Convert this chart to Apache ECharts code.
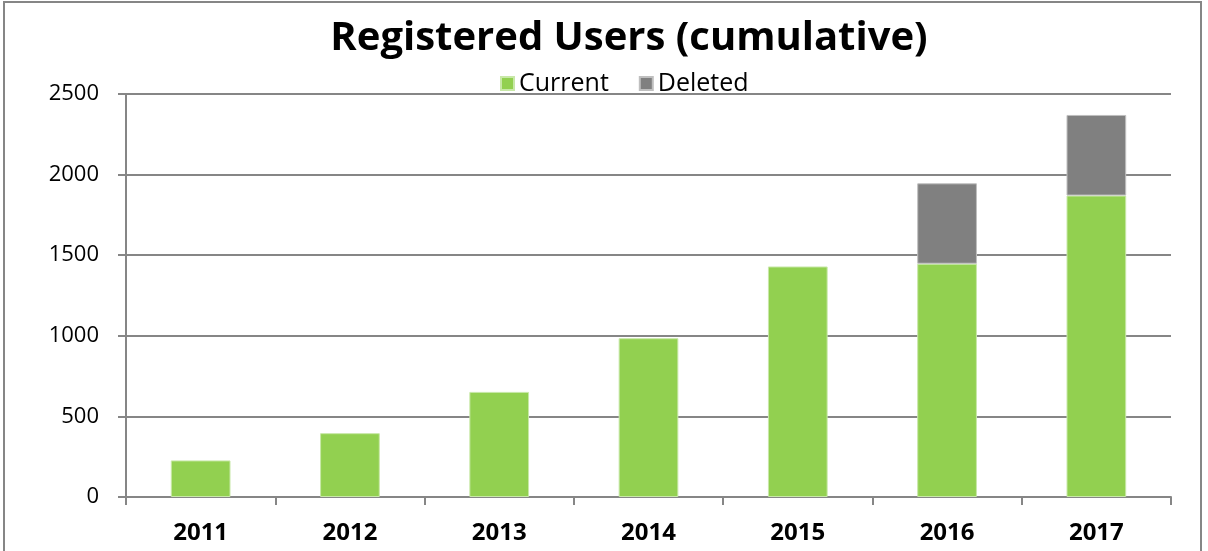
<!DOCTYPE html>
<html>
<head>
<meta charset="utf-8">
<script src="https://cdn.jsdelivr.net/npm/echarts@6/dist/echarts.min.js"></script>
<style>
  html, body { margin: 0; padding: 0; background: #fff; }
  #main { width: 1208px; height: 551px; }
</style>
</head>
<body>
<div id="main"></div>
<script>
// data
var years = ['2011', '2012', '2013', '2014', '2015', '2016', '2017'];
var current = [227, 396, 652, 985, 1430, 1447, 1870];
var deleted = [0, 0, 0, 0, 0, 499, 500];
var yTicks = [0, 500, 1000, 1500, 2000, 2500];

var myChart = echarts.init(document.getElementById('main'));
var font = '"Open Sans", "Noto Sans", sans-serif';

var option = {
    animation: false,
    backgroundColor: '#fff',
    title: {
        text: 'Registered Users (cumulative)',
        left: 624,
        textAlign: 'center',
        top: 14,
        textStyle: { fontFamily: font, fontSize: 40, fontWeight: 'bold', color: '#000' }
    },
    legend: {
        top: 66,
        left: 495,
        itemWidth: 13,
        itemHeight: 13,
        itemGap: 30,
        icon: 'rect',
        textStyle: { fontFamily: font, fontSize: 25, color: '#000' },
        data: ['Current', 'Deleted']
    },
    grid: { left: 126, right: 37, top: 94, bottom: 54 },
    xAxis: {
        type: 'category',
        data: years,
        axisLine: { lineStyle: { color: '#868686', width: 2 } },
        axisTick: { show: true, length: 8, lineStyle: { color: '#868686', width: 2 } },
        axisLabel: { fontFamily: font, fontSize: 24, fontWeight: 'bold', color: '#000', margin: 24 }
    },
    yAxis: {
        type: 'value',
        min: yTicks[0],
        max: yTicks[yTicks.length - 1],
        interval: 500,
        axisLine: { show: true, lineStyle: { color: '#868686', width: 2 } },
        axisTick: { show: true, length: 8, lineStyle: { color: '#868686', width: 2 } },
        splitLine: { lineStyle: { color: '#868686', width: 2 } },
        axisLabel: {
            fontFamily: font, fontSize: 22, color: '#000', margin: 27,
            formatter: function (v) { return String(v); }
        }
    },
    series: [
        {
            name: 'Current',
            type: 'bar',
            stack: 'users',
            barCategoryGap: '60%',
            itemStyle: { color: '#92d050', borderColor: '#c8e8a8', borderWidth: 1 },
            data: current
        },
        {
            name: 'Deleted',
            type: 'bar',
            stack: 'users',
            itemStyle: { color: '#808080', borderColor: '#bfbfbf', borderWidth: 1 },
            data: deleted.map(function (v) { return v === 0 ? null : v; })
        }
    ],
    graphic: [{
        type: 'rect',
        shape: { x: 4, y: 2, width: 1197, height: 560 },
        style: { fill: 'none', stroke: '#868686', lineWidth: 2 },
        silent: true
    }]
};

option && myChart.setOption(option);
</script>
</body>
</html>
